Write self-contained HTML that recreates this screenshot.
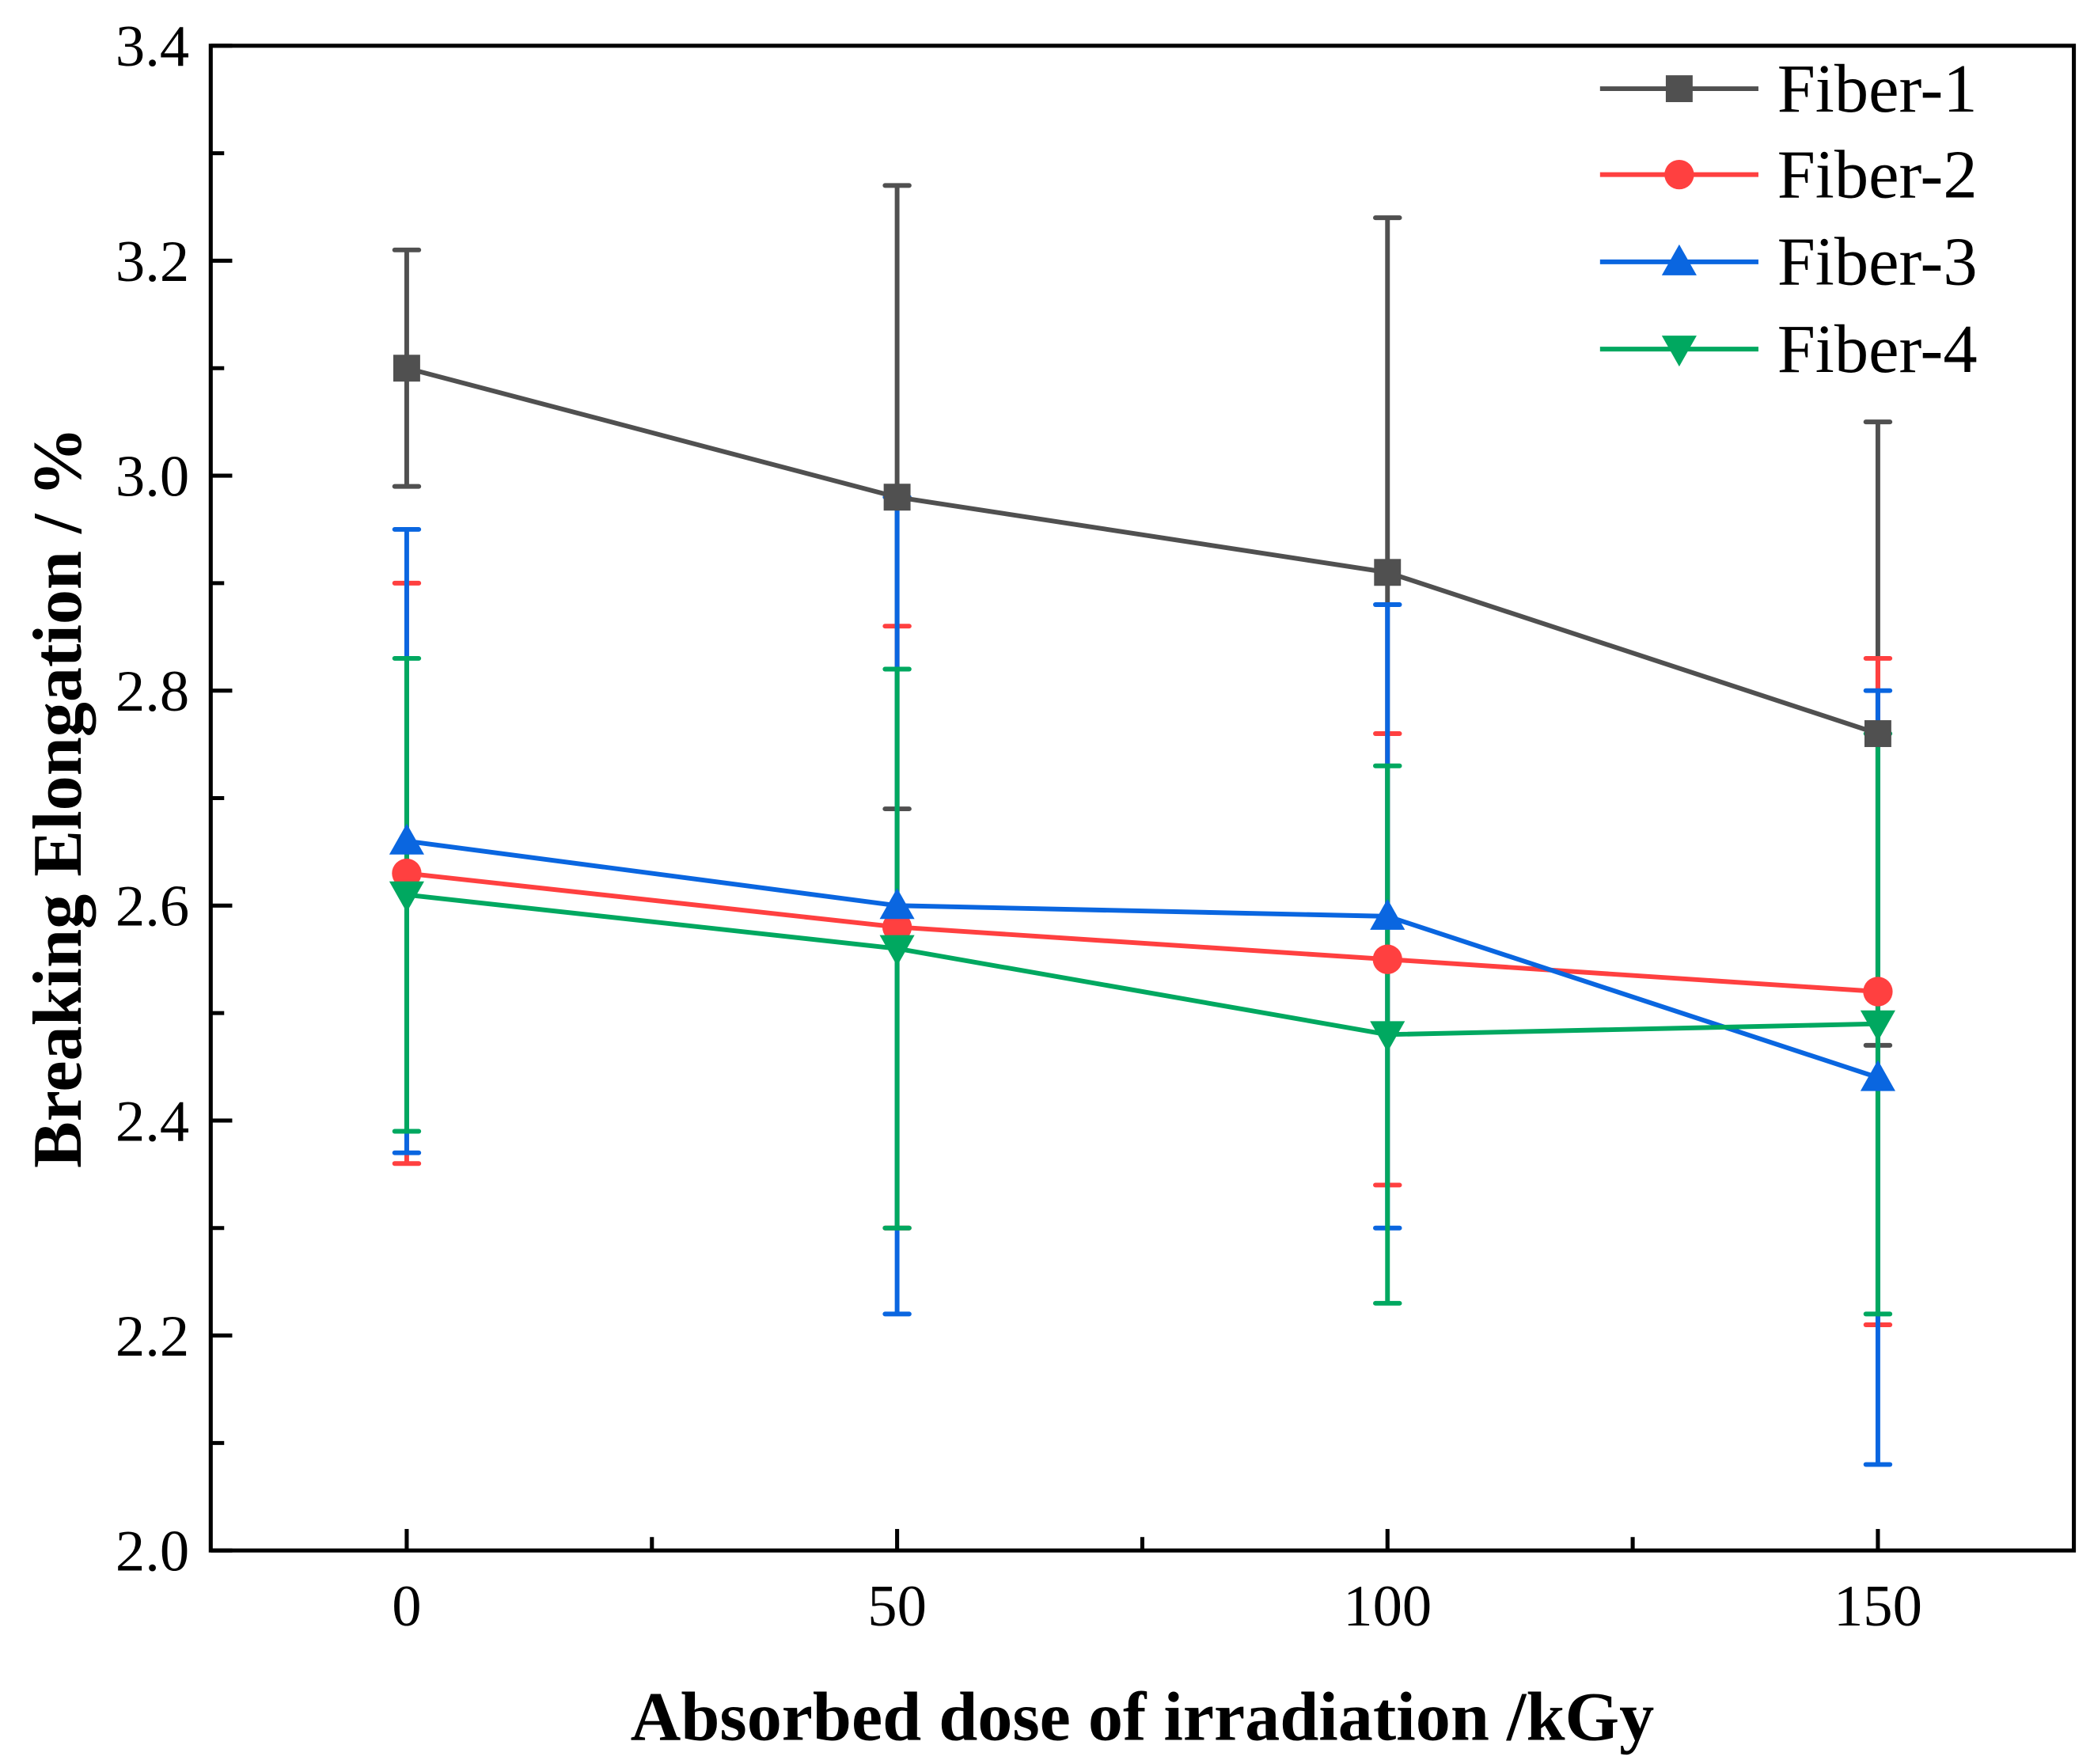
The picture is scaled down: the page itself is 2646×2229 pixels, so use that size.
<!DOCTYPE html>
<html><head><meta charset="utf-8"><style>html,body{margin:0;padding:0;background:#fff}svg{display:block}</style></head>
<body>
<svg id="chart" xmlns="http://www.w3.org/2000/svg" width="2646" height="2229" viewBox="0 0 1560 1314" font-family="'Liberation Serif', serif">
<g id="plot"></g>
</svg>
<script>
const doses = [0, 50, 100, 150];
const seriesNames = ["Fiber-1", "Fiber-2", "Fiber-3", "Fiber-4"];
const fiber1 = [3.10, 2.98, 2.91, 2.76];
const fiber1Err = [0.11, 0.29, 0.33, 0.29];
const fiber2 = [2.63, 2.58, 2.55, 2.52];
const fiber2Err = [0.27, 0.28, 0.21, 0.31];
const fiber3 = [2.66, 2.60, 2.59, 2.44];
const fiber3Err = [0.29, 0.38, 0.29, 0.36];
const fiber4 = [2.61, 2.56, 2.48, 2.49];
const fiber4Err = [0.22, 0.26, 0.25, 0.27];
const yTickLabels = ["2.0","2.2","2.4","2.6","2.8","3.0","3.2","3.4"];
const xTickLabels = ["0","50","100","150"];

const NS="http://www.w3.org/2000/svg";
const L=157,R=1545,T=34,B=1155;
const X0=303,X150=1399;
function xs(v){return X0+(X150-X0)*v/150;}
function ys(v){return B-(B-T)*(v-2.0)/1.4;}
const g=document.getElementById('plot');
function mk(tag,attrs,parent){const e=document.createElementNS(NS,tag);for(const k in attrs)e.setAttribute(k,attrs[k]);(parent||g).appendChild(e);return e;}

const frame=mk('rect',{x:L,y:T,width:R-L,height:B-T,fill:'none',stroke:'#000','stroke-width':3});



for(let i=0;i<=14;i++){
  const v=2.0+i*0.1, y=ys(v), major=i%2===0;
  const t=mk('line',{x1:L,x2:L+(major?16:10),y1:y,y2:y,stroke:'#000','stroke-width':3});
  
  
  if(major){
    const tx=mk('text',{x:L-16,y:y+15,'text-anchor':'end','font-size':44});
    tx.textContent=yTickLabels[i/2];
    
    
  }
}
for(let v=0;v<=150;v+=25){
  const x=xs(v), major=v%50===0;
  const t=mk('line',{x1:x,x2:x,y1:B,y2:B-(major?16:10),stroke:'#000','stroke-width':3});
  
  
  if(major){
    const tx=mk('text',{x:x,y:B+56,'text-anchor':'middle','font-size':44});
    tx.textContent=xTickLabels[v/50];
    
    
  }
}
const xt=mk('text',{x:851,y:1296,'text-anchor':'middle','font-size':52,'font-weight':'bold'});
xt.textContent='Absorbed dose of irradiation /kGy';


const yt=mk('text',{x:0,y:0,'text-anchor':'middle','font-size':52,'font-weight':'bold',transform:'translate(60,594) rotate(-90)'});
yt.textContent='Breaking Elongation / %';



const colors=['#505050','#FF4040','#0A66E0','#00A860'];
const vals=[fiber1,fiber2,fiber3,fiber4];
const errs=[fiber1Err,fiber2Err,fiber3Err,fiber4Err];
const shapes=['square','circle','up','down'];
function marker(shape,x,y,c,parent){
  let m;
  if(shape==='square') m=mk('rect',{x:x-10,y:y-10,width:20,height:20,fill:c},parent);
  else if(shape==='circle') m=mk('circle',{cx:x,cy:y,r:11,fill:c},parent);
  else if(shape==='up') m=mk('polygon',{points:`${x},${y-13} ${x-13},${y+10} ${x+13},${y+10}`,fill:c},parent);
  else m=mk('polygon',{points:`${x},${y+13} ${x-13},${y-10} ${x+13},${y-10}`,fill:c},parent);
  return m;
}
for(let s=0;s<4;s++){
  const eg=mk('g',{});
  
  
  for(let i=0;i<doses.length;i++){
    const x=xs(doses[i]),yh=ys(vals[s][i]+errs[s][i]),yl=ys(vals[s][i]-errs[s][i]);
    mk('line',{x1:x,x2:x,y1:yh,y2:yl,stroke:colors[s],'stroke-width':3.5},eg);
    mk('line',{x1:x-9,x2:x+9,y1:yh,y2:yh,stroke:colors[s],'stroke-width':3.5,'stroke-linecap':'round'},eg);
    mk('line',{x1:x-9,x2:x+9,y1:yl,y2:yl,stroke:colors[s],'stroke-width':3.5,'stroke-linecap':'round'},eg);
  }
}
for(let s=0;s<4;s++){
  const sg=mk('g',{});
  
  
  const pts=doses.map((d,i)=>xs(d)+','+ys(vals[s][i])).join(' ');
  const pl=mk('polyline',{points:pts,fill:'none',stroke:colors[s],'stroke-width':3.5},sg);
  
  
  for(let i=0;i<doses.length;i++){
    const m=marker(shapes[s],xs(doses[i]),ys(vals[s][i]),colors[s],sg);
    
    
  }
}
const lg=mk('g',{});


const rows=[66,130,195,260];
for(let s=0;s<4;s++){
  const eg=mk('g',{},lg);
  
  
  mk('line',{x1:1192,x2:1310,y1:rows[s],y2:rows[s],stroke:colors[s],'stroke-width':3.5},eg);
  marker(shapes[s],1251,rows[s],colors[s],eg);
  const t=mk('text',{x:1324,y:rows[s]+17,'font-size':51},eg);
  t.textContent=seriesNames[s];
}
</script>
</body></html>
